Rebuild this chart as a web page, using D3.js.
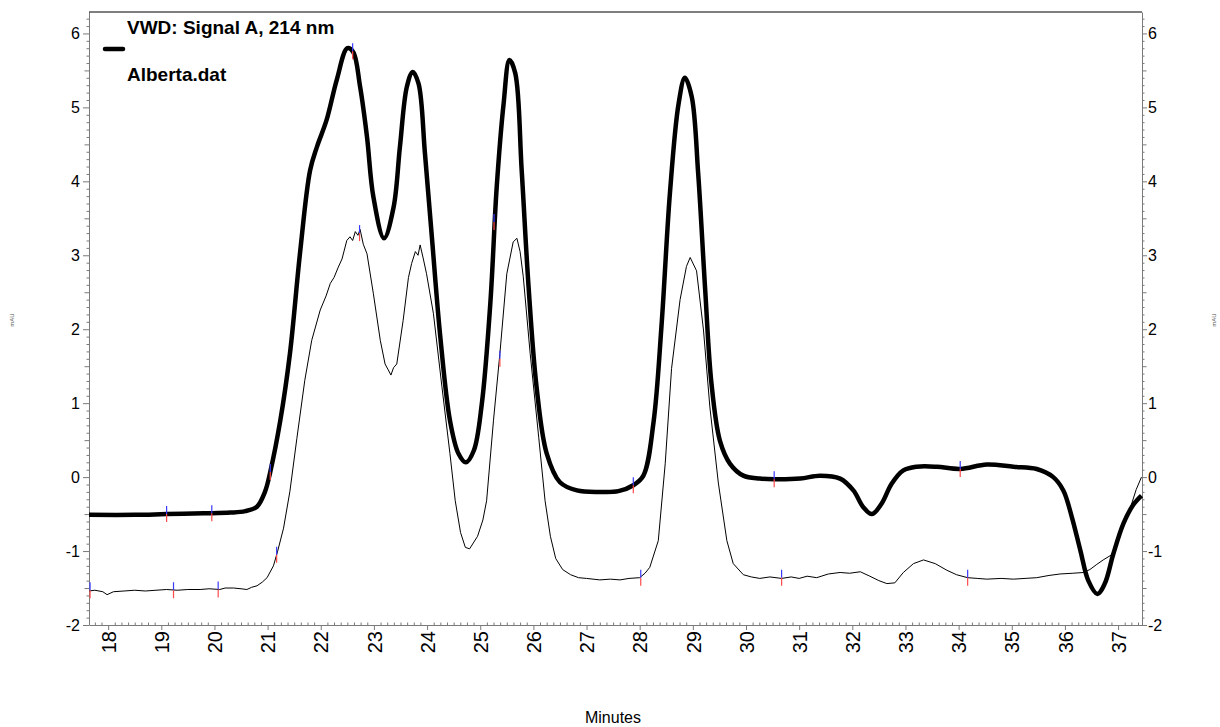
<!DOCTYPE html>
<html>
<head>
<meta charset="utf-8">
<script src="https://d3js.org/d3.v7.min.js"></script>
<style>
  body { margin: 0; background: #fff; }
  svg { display: block; font-family: "Liberation Sans", Arial, sans-serif; }
</style>
</head>
<body>
<div id="chart"></div>
<script>
// Signal A (thick trace) - retention time (min) and response (mAU)
var timeA = [17.64, 18.5, 19.1, 19.8, 20.3, 20.58, 20.8, 20.95, 21.05, 21.24, 21.42, 21.61, 21.8, 21.93,
  22.11, 22.3, 22.5, 22.61, 22.74, 22.87, 22.99, 23.19, 23.37, 23.49, 23.62, 23.73, 23.84, 23.96,
  24.09, 24.25, 24.43, 24.59, 24.73, 24.88, 25.03, 25.19, 25.31, 25.44, 25.55, 25.66, 25.78, 25.91,
  26.06, 26.25, 26.5, 26.82, 27.25, 27.6, 27.88, 28.07, 28.26, 28.41, 28.57, 28.73, 28.85, 28.98,
  29.1, 29.23, 29.35, 29.51, 29.7, 29.95, 30.26, 30.53, 31.02, 31.39, 31.77, 32.02, 32.21, 32.37,
  32.55, 32.74, 32.96, 33.21, 33.59, 34.03, 34.53, 35.03, 35.47, 35.78, 35.97, 36.13, 36.29, 36.44,
  36.61, 36.75, 36.91, 37.1, 37.28, 37.44];
var signalA = [-0.51, -0.51, -0.5, -0.49, -0.48, -0.46, -0.4, -0.2, 0.07, 0.77, 1.67, 3.03, 4.15, 4.47,
  4.83, 5.37, 5.8, 5.75, 5.28, 4.6, 3.79, 3.23, 3.65, 4.47, 5.28, 5.48, 5.32, 4.38,
  3.25, 1.89, 0.77, 0.32, 0.2, 0.36, 0.99, 2.35, 3.92, 5.05, 5.64, 5.46, 4.15, 2.57,
  1.22, 0.32, -0.07, -0.18, -0.2, -0.19, -0.11, 0.02, 0.74, 2.04, 3.85, 5.04, 5.4, 5.14,
  4.11, 2.56, 1.27, 0.49, 0.18, 0.02, -0.02, -0.03, -0.02, 0.02, -0.02, -0.18, -0.41, -0.5,
  -0.36, -0.09, 0.09, 0.14, 0.14, 0.11, 0.17, 0.14, 0.11, 0.0, -0.18, -0.54, -0.99, -1.4,
  -1.58, -1.44, -1.04, -0.63, -0.38, -0.25];

// second trace (thin, noisy)
var timeB = [17.64, 17.75, 17.9, 17.98, 18.1, 18.3, 18.5, 18.7, 18.9, 19.1, 19.3, 19.5, 19.73, 19.9,
  20.1, 20.2, 20.36, 20.5, 20.61, 20.7, 20.8, 20.9, 20.99, 21.11, 21.19, 21.3, 21.42, 21.55, 21.7,
  21.83, 21.99, 22.1, 22.18, 22.25, 22.33, 22.4, 22.49, 22.55, 22.6, 22.65, 22.7, 22.74, 22.8, 22.87,
  22.99, 23.12, 23.21, 23.27, 23.32, 23.37, 23.43, 23.55, 23.65, 23.71, 23.78, 23.83, 23.87, 23.93,
  23.99, 24.12, 24.28, 24.43, 24.53, 24.63, 24.72, 24.8, 24.95, 25.05, 25.12, 25.25, 25.37, 25.5,
  25.62, 25.69, 25.75, 25.81, 25.94, 26.1, 26.22, 26.32, 26.42, 26.55, 26.7, 26.85, 27.0, 27.25,
  27.45, 27.63, 27.8, 28.0, 28.1, 28.19, 28.35, 28.48, 28.6, 28.76, 28.88, 28.95, 29.07, 29.2,
  29.32, 29.48, 29.64, 29.76, 29.95, 30.1, 30.26, 30.45, 30.67, 30.85, 31.0, 31.15, 31.33, 31.55,
  31.77, 31.95, 32.15, 32.33, 32.5, 32.65, 32.8, 32.96, 33.15, 33.34, 33.56, 33.78, 33.96, 34.17,
  34.35, 34.53, 34.8, 35.03, 35.25, 35.47, 35.7, 35.91, 36.15, 36.35, 36.47, 36.6, 36.72, 36.88,
  37.03, 37.22, 37.34, 37.44];
var signalB = [-1.54, -1.53, -1.55, -1.59, -1.55, -1.54, -1.53, -1.54, -1.53, -1.52, -1.53, -1.52, -1.52, -1.51,
  -1.52, -1.5, -1.5, -1.51, -1.52, -1.49, -1.47, -1.42, -1.36, -1.2, -1.0, -0.69, -0.19, 0.52, 1.31,
  1.85, 2.26, 2.45, 2.62, 2.7, 2.84, 2.95, 3.2, 3.25, 3.2, 3.32, 3.27, 3.35, 3.15, 3.02,
  2.48, 1.85, 1.53, 1.45, 1.38, 1.48, 1.53, 2.12, 2.7, 2.89, 3.05, 3.0, 3.14, 2.95,
  2.75, 2.21, 1.22, 0.32, -0.32, -0.75, -0.95, -0.97, -0.8, -0.58, -0.32, 0.77, 1.67, 2.75,
  3.18, 3.23, 3.05, 2.71, 1.67, 0.54, -0.32, -0.8, -1.1, -1.25, -1.32, -1.36, -1.37, -1.39,
  -1.38, -1.39, -1.37, -1.36, -1.3, -1.22, -0.86, 0.18, 1.47, 2.4, 2.85, 2.97, 2.79, 1.99,
  0.95, -0.08, -0.86, -1.17, -1.32, -1.35, -1.37, -1.35, -1.37, -1.35, -1.37, -1.34, -1.36, -1.31,
  -1.29, -1.3, -1.28, -1.34, -1.4, -1.44, -1.43, -1.29, -1.17, -1.12, -1.17, -1.26, -1.32, -1.36,
  -1.37, -1.38, -1.37, -1.38, -1.37, -1.36, -1.33, -1.31, -1.3, -1.29, -1.25, -1.18, -1.12, -1.05,
  -0.8, -0.44, -0.17, 0.0];

// integration marks (peak start / apex / end)
var markTimeA = [19.1, 19.95, 21.05, 22.6, 25.26, 27.88, 30.53, 34.03];
var markValA = [-0.5, -0.49, 0.07, 5.76, 3.45, -0.11, -0.03, 0.11];
var markTimeB = [17.66, 19.23, 20.07, 21.17, 22.73, 25.37, 28.02, 30.67, 34.17];
var markValB = [-1.53, -1.53, -1.52, -1.05, 3.3, 1.6, -1.36, -1.36, -1.36];

// axis ticks
var xTicks = [18, 19, 20, 21, 22, 23, 24, 25, 26, 27, 28, 29, 30, 31, 32, 33, 34, 35, 36, 37];
var yTicks = [-2, -1, 0, 1, 2, 3, 4, 5, 6];

var svgWidth = 1220;
var svgHeight = 727;

var margin = { top: 12, right: 78, bottom: 102, left: 89 };
var width = svgWidth - margin.left - margin.right;
var height = svgHeight - margin.top - margin.bottom;

var svg = d3.select("#chart")
  .append("svg")
  .attr("width", svgWidth)
  .attr("height", svgHeight);

var chartGroup = svg.append("g")
  .attr("transform", `translate(${margin.left}, ${margin.top})`);

var xScale = d3.scaleLinear().domain([17.64, 37.45]).range([0, width]);
var yScale = d3.scaleLinear().domain([-2, 6.29]).range([height, 0]);

var axisColor = "#7a7a7a";

// minor tick values
var yMinor = d3.range(-20, 63).map(d => d / 10).filter(d => Math.abs(d - Math.round(d)) > 0.01);
var xMinor = d3.range(17.75, 37.45, 0.125).filter(d => Math.abs(d - Math.round(d)) > 0.01);

function styleAxis(g) {
  g.select(".domain").attr("stroke", axisColor);
  g.selectAll(".tick line").attr("stroke", axisColor);
  g.selectAll(".tick text")
    .attr("fill", "#000")
    .style("font-size", "16px")
    .style("font-family", "'Liberation Sans', Arial, sans-serif");
}

// left axis (minor first, then major)
chartGroup.append("g")
  .call(d3.axisLeft(yScale).tickValues(yMinor).tickSize(3).tickFormat("").tickSizeOuter(0))
  .call(g => g.selectAll(".tick line").attr("stroke", axisColor)
    .attr("x2", d => Math.abs(d * 2 - Math.round(d * 2)) < 0.01 ? -4.5 : -2.5))
  .call(g => g.select(".domain").remove());
var leftAxis = chartGroup.append("g")
  .call(d3.axisLeft(yScale).tickValues(yTicks).tickSize(6).tickPadding(3).tickSizeOuter(0)
    .tickFormat(d => String(d).replace("\u2212", "-")))
  .call(styleAxis);

// right axis
var rightMinor = chartGroup.append("g")
  .attr("transform", `translate(${width}, 0)`)
  .call(d3.axisRight(yScale).tickValues(yMinor).tickSize(3).tickFormat("").tickSizeOuter(0))
  .call(g => g.selectAll(".tick line").attr("stroke", axisColor)
    .attr("x2", d => Math.abs(d * 2 - Math.round(d * 2)) < 0.01 ? 4.5 : 2.5))
  .call(g => g.select(".domain").remove());
var rightAxis = chartGroup.append("g")
  .attr("transform", `translate(${width}, 0)`)
  .call(d3.axisRight(yScale).tickValues(yTicks).tickSize(5).tickPadding(1).tickSizeOuter(0)
    .tickFormat(d => String(d).replace("\u2212", "-")))
  .call(styleAxis);

// bottom axis
chartGroup.append("g")
  .attr("transform", `translate(0, ${height})`)
  .call(d3.axisTop(xScale).tickValues(xMinor).tickSize(2.5).tickFormat("").tickSizeOuter(0))
  .call(g => g.selectAll(".tick line").attr("stroke", axisColor))
  .call(g => g.select(".domain").remove());
var bottomAxis = chartGroup.append("g")
  .attr("transform", `translate(0, ${height})`)
  .call(d3.axisBottom(xScale).tickValues(xTicks).tickSize(5).tickSizeOuter(0).tickFormat(d3.format("d")))
  .call(styleAxis);

bottomAxis.selectAll(".tick text")
  .style("font-size", "20px")
  .attr("text-anchor", "end")
  .attr("x", 0)
  .attr("y", 0)
  .attr("dy", "0.36em")
  .attr("transform", "translate(0, 6) rotate(-90)");

// top border
chartGroup.append("line")
  .attr("x1", 0).attr("x2", width)
  .attr("y1", 0).attr("y2", 0)
  .attr("stroke", "#000")
  .attr("stroke-width", 1.2);

// traces
var lineB = d3.line()
  .x((d, i) => xScale(timeB[i]))
  .y(d => yScale(d));

var lineA = d3.line()
  .x((d, i) => xScale(timeA[i]))
  .y(d => yScale(d))
  .curve(d3.curveCatmullRom.alpha(0.5));

chartGroup.append("path")
  .datum(signalB)
  .attr("d", lineB)
  .attr("fill", "none")
  .attr("stroke", "#000")
  .attr("stroke-width", 1);

chartGroup.append("path")
  .datum(signalA)
  .attr("d", lineA)
  .attr("fill", "none")
  .attr("stroke", "#000")
  .attr("stroke-width", 4.5)
  .attr("stroke-linejoin", "round");

// integration marks: blue above, red below
function drawMarks(times, vals) {
  var g = chartGroup.append("g");
  times.forEach(function(t, i) {
    var px = xScale(t);
    var py = yScale(vals[i]);
    g.append("line").attr("x1", px).attr("x2", px)
      .attr("y1", py - 8).attr("y2", py)
      .attr("stroke", "#3a3aff").attr("stroke-width", 1.2);
    g.append("line").attr("x1", px).attr("x2", px)
      .attr("y1", py).attr("y2", py + 8)
      .attr("stroke", "#ff4a4a").attr("stroke-width", 1.2);
  });
}
drawMarks(markTimeA, markValA);
drawMarks(markTimeB, markValB);

// legend
chartGroup.append("line")
  .attr("x1", 16).attr("x2", 34)
  .attr("y1", 37).attr("y2", 37)
  .attr("stroke", "#000")
  .attr("stroke-width", 4.5)
  .attr("stroke-linecap", "round");

chartGroup.append("text")
  .attr("x", 38).attr("y", 22)
  .style("font-size", "19px")
  .style("font-weight", "bold")
  .text("VWD: Signal A, 214 nm");

chartGroup.append("text")
  .attr("x", 38).attr("y", 69)
  .style("font-size", "19px")
  .style("font-weight", "bold")
  .text("Alberta.dat");

// axis titles
svg.append("text")
  .attr("x", 613).attr("y", 723)
  .attr("text-anchor", "middle")
  .style("font-size", "16px")
  .text("Minutes");

svg.append("text")
  .attr("transform", "translate(14, 320) rotate(-90)")
  .attr("text-anchor", "middle")
  .style("font-size", "6px")
  .attr("fill", "#555")
  .text("mAU");

svg.append("text")
  .attr("transform", "translate(1216, 320) rotate(-90)")
  .attr("text-anchor", "middle")
  .style("font-size", "6px")
  .attr("fill", "#555")
  .text("mAU");
</script>
</body>
</html>
